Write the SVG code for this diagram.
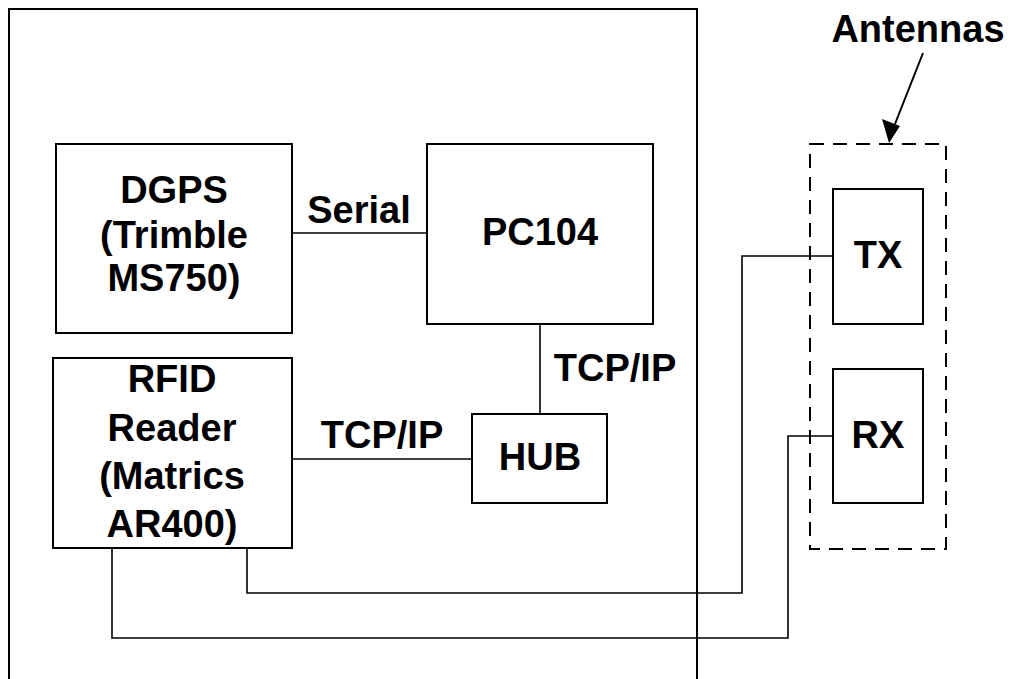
<svg xmlns="http://www.w3.org/2000/svg" width="1013" height="679" viewBox="0 0 1013 679">
<defs>
<style>
.box{fill:#fff;stroke:#000;stroke-width:2}
.frame{fill:none;stroke:#000;stroke-width:2}
.dash{fill:none;stroke:#000;stroke-width:2;stroke-dasharray:14 9}
.wire{fill:none;stroke:#000;stroke-width:1.6}
text{font-family:"Liberation Sans",Arial,sans-serif;font-weight:bold;font-size:38px;text-anchor:middle;fill:#000}
</style>
<marker id="arr" markerWidth="10" markerHeight="8" refX="10" refY="4" orient="auto" markerUnits="userSpaceOnUse" viewBox="0 0 10 8">
<path d="M0,0 L10,4 L0,8 Z" fill="#000"/>
</marker>
</defs>
<rect width="1013" height="679" fill="#fff"/>
<g id="frame">
<path class="frame" d="M9,690 L9,9 L697,9 L697,690"/>
</g>
<g id="connectors">
<line class="wire" x1="292" y1="233" x2="427" y2="233"/>
<line class="wire" x1="540" y1="324" x2="540" y2="414"/>
<line class="wire" x1="292" y1="459" x2="472" y2="459"/>
<polyline class="wire" points="833,256 742,256 742,593 247,593 247,548"/>
<polyline class="wire" points="833,436 788,436 788,638 112,638 112,548"/>
<g id="antenna-pointer">
<line x1="923" y1="53" x2="895" y2="124" stroke="#000" stroke-width="2"/>
<path d="M889,143 L882,119 L900,126 Z" fill="#000"/>
</g>
</g>
<g id="labels">
<text x="359" y="223">Serial</text>
<text x="615" y="381">TCP/IP</text>
<text x="382" y="448">TCP/IP</text>
<text x="918" y="42">Antennas</text>
</g>
<g id="dgps">
<rect class="box" x="56" y="144" width="236" height="189"/>
<text x="174" y="203">DGPS</text>
<text x="174" y="248">(Trimble</text>
<text x="174" y="291">MS750)</text>
</g>
<g id="pc104">
<rect class="box" x="427" y="144" width="226" height="180"/>
<text x="540" y="245">PC104</text>
</g>
<g id="rfid">
<rect class="box" x="53" y="358" width="239" height="190"/>
<text x="172" y="392">RFID</text>
<text x="172" y="441">Reader</text>
<text x="172" y="489">(Matrics</text>
<text x="172" y="537">AR400)</text>
</g>
<g id="hub">
<rect class="box" x="472" y="414" width="135" height="89"/>
<text x="540" y="470">HUB</text>
</g>
<g id="antennas">
<rect class="dash" x="810" y="144" width="136" height="405"/>
</g>
<g id="tx">
<rect class="box" x="833" y="189" width="90" height="135"/>
<text x="878" y="268">TX</text>
</g>
<g id="rx">
<rect class="box" x="833" y="369" width="90" height="134"/>
<text x="878" y="448">RX</text>
</g>
</svg>
